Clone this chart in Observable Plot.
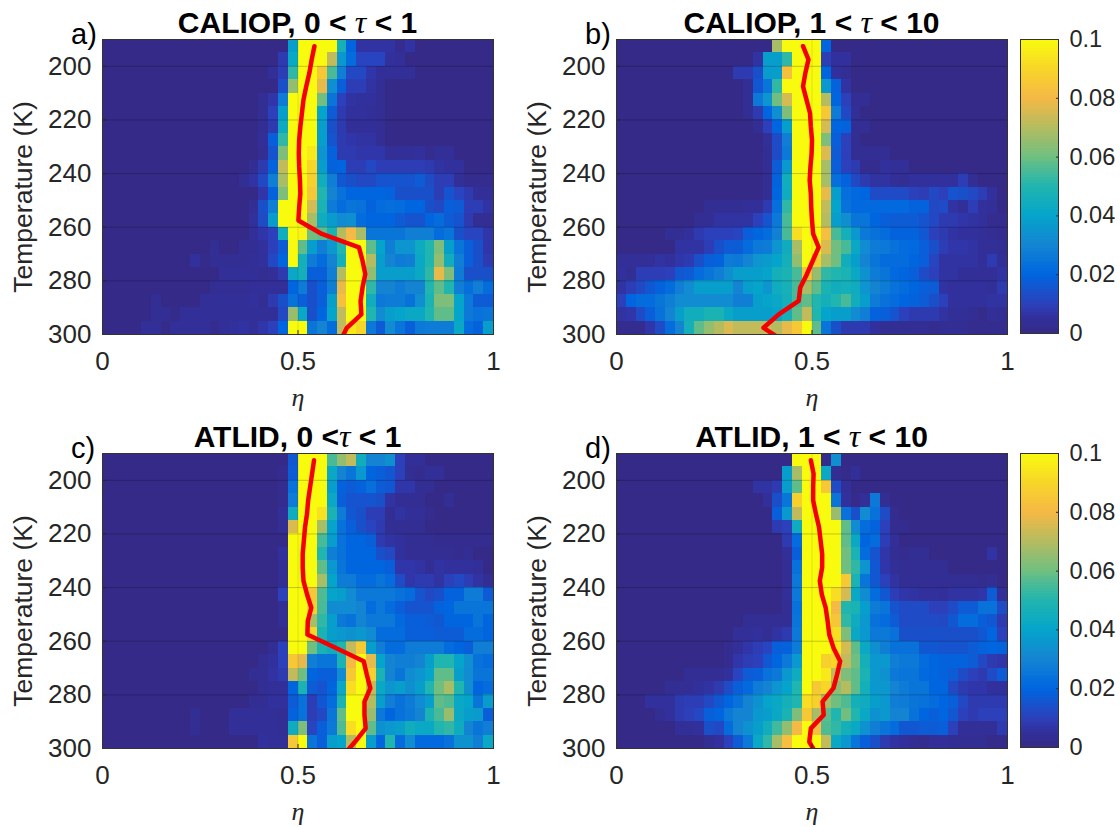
<!DOCTYPE html>
<html>
<head>
<meta charset="utf-8">
<script src="https://cdn.jsdelivr.net/npm/d3@7"></script>
<script src="https://cdn.jsdelivr.net/npm/@observablehq/plot@0.6"></script>
<style>
html,body{margin:0;padding:0;background:#fff;}
#chart{position:relative;width:1120px;height:827px;overflow:hidden;font-family:"Liberation Sans",Arial,sans-serif;}
#chart svg{position:absolute;overflow:visible;background:transparent;}
.title{position:absolute;font-weight:bold;font-size:30px;color:#000;white-space:pre;text-align:center;line-height:30px;}
.title i{font-family:"Liberation Serif",serif;font-style:italic;font-weight:normal;font-size:32px;}
.letter{position:absolute;font-size:29px;color:#000;line-height:30px;}
</style>
</head>
<body>
<div id="chart"></div>
<script>
// Rows are listed top (190–195 K) to bottom (295–300 K). Each row: [first non-empty column, values…] in units of 0.001
const caliopThin = [
[19,38,100,100,100,100,47,20,6,6,6,6,2,6],
[18,8,42,100,100,100,72,36,22,11,11,11,5,4],
[17,4,9,52,100,100,85,55,28,12,12,7,4,4,4,4],
[18,14,65,100,100,78,33,18,9,9,6,3],
[16,3,7,27,100,100,100,60,25,10,6,5,5,3],
[16,3,10,38,100,100,100,40,17,8,5,5,4,3],
[16,3,8,43,100,100,100,38,14,8,4,4,4,3],
[16,4,18,52,100,100,100,38,15,8,7,6,6,3],
[16,3,15,62,100,100,95,35,19,8,8,7,7,7,4,4,4,5,2,4,4],
[15,3,8,19,72,100,100,90,38,19,20,9,9,12,9,9,9,9,9,8,6,5,5],
[14,3,6,12,28,68,100,100,88,45,28,16,14,12,12,15,15,15,15,17,13,9,9,4,2,2,2],
[16,7,19,62,100,100,85,50,30,24,20,20,20,20,19,14,14,14,14,9,15,11,8,4,4],
[15,3,14,28,100,100,100,75,48,27,22,25,24,19,22,23,22,20,20,14,12,18,17,9,9,6],
[15,5,13,37,100,100,100,68,44,37,32,33,22,20,20,20,17,15,15,20,22,17,15,8,3,3],
[15,4,7,10,45,100,98,60,58,48,70,80,68,25,25,25,25,28,28,28,22,25,14,11,11,7],
[11,3,0,0,3,3,5,10,17,100,58,38,28,36,50,100,100,58,40,28,35,35,43,50,62,38,25,18,14,7],
[9,5,1,3,3,3,3,4,5,12,20,100,46,27,22,30,46,100,100,70,38,30,27,28,42,50,65,45,28,18,14,8],
[12,4,4,4,4,3,4,8,42,46,18,18,28,70,100,100,65,38,38,38,38,42,52,78,62,27,14,14,14],
[11,3,3,3,3,4,4,4,4,20,27,14,18,28,78,100,100,52,30,30,27,30,30,50,58,50,28,23,28,22],
[5,3,0,0,0,0,4,4,4,4,4,5,3,8,14,24,18,14,18,38,82,100,100,45,26,27,27,24,33,48,62,62,40,26,17,17],
[5,3,3,1,4,4,4,4,4,4,4,4,4,4,12,66,42,14,20,40,72,100,100,50,32,38,40,42,42,50,58,58,40,26,24,25],
[4,4,4,1,4,4,4,4,2,4,5,6,4,7,10,20,100,100,25,30,22,72,95,90,26,17,32,25,18,26,27,27,27,42,22,19,38]
];
const caliopThick = [
[16,68,100,100,100,100,20],
[14,6,38,38,52,100,100,100,9,5,5],
[12,8,8,14,37,38,82,100,100,100,20,5,3],
[13,3,16,25,52,100,100,100,100,36,19,6],
[13,3,26,35,60,75,100,100,100,70,20,10,3,3],
[13,3,8,20,33,62,100,100,100,85,27,12,4],
[14,3,10,20,38,100,100,100,75,20,19,3,3],
[15,4,13,28,100,100,100,62,18,10,3],
[15,3,13,26,100,100,100,76,17,10,3,3,3,3],
[15,3,17,36,100,100,100,68,18,10,8,2,2,5,4,4],
[15,3,19,45,100,100,100,68,23,19,12,8,6,6,4,3,5,5,5,5,5,9,3],
[15,3,20,44,100,100,100,78,38,23,21,20,13,13,13,13,10,9,12,10,15,14,12,9,5],
[9,3,3,3,3,4,4,8,23,52,100,100,100,72,40,24,21,21,21,21,21,21,19,19,12,13,6,4,9,5,4],
[8,3,3,6,6,6,6,10,15,26,55,100,100,100,70,38,33,25,25,20,18,17,17,17,15,12,8,8,7,6,5,2,2],
[5,3,3,5,8,10,10,10,11,18,20,22,29,55,92,100,100,82,55,46,36,26,24,22,19,19,19,16,10,8,6,5,5,4,3,2],
[6,6,6,6,9,14,17,17,22,26,27,35,44,68,100,100,76,60,55,42,32,27,26,24,22,21,18,14,9,7,7,6,4,4,3],
[0,4,4,4,4,6,5,7,8,14,18,19,27,26,30,35,37,40,46,65,100,88,68,60,45,38,30,25,22,22,22,20,18,11,6,6,6,6,4,8,4],
[0,5,3,9,9,9,10,16,17,22,25,28,33,38,38,38,40,46,48,55,85,66,52,50,48,42,34,27,25,21,20,18,13,10,6,6,4,4,4,4,6],
[0,6,9,12,16,19,22,28,32,38,38,38,38,30,38,40,35,44,47,55,68,58,48,45,46,44,35,30,27,24,22,20,18,17,6,5,5,5,5,4,8],
[0,10,20,22,22,25,28,32,32,32,32,32,32,28,28,38,40,42,46,55,58,50,46,50,55,45,38,27,24,22,20,19,17,14,10,5,5,5,5,6,6],
[0,6,7,13,18,24,30,38,45,45,48,48,42,38,38,38,38,40,46,58,72,50,40,38,38,32,28,19,18,15,10,8,8,8,6,4,4,3,1,4,3],
[0,2,2,2,7,13,22,30,46,58,65,70,76,72,72,72,72,70,78,85,100,58,25,14,8,8,8,5,3,3,3,3,3,2,3,3,3,2,2,2,2]
];
const atlidThin = [
[19,16,100,100,100,55,65,72,45,30,30,33,10,4,4],
[18,2,17,100,100,100,42,30,25,36,20,18,16,10,3,2,4,4],
[18,2,24,100,100,100,38,19,17,19,23,17,16,7,7,3,3],
[18,2,27,100,100,100,42,18,15,15,15,14,6,3,3,3,0,0,3],
[18,4,44,100,100,93,48,27,16,14,9,9,3,6,4,4,2],
[18,3,76,100,100,68,40,24,18,14,11,8,3,3,3,3],
[19,100,100,100,55,38,24,20,20,18,8,6,5,3,3,3,2,2,2,2,2,2],
[18,5,100,100,100,50,28,24,20,20,20,14,12,5,3,3,3,3,3,2,3],
[18,3,100,100,100,58,36,25,20,20,20,20,18,7,7,6,3,6,5,5,5,4],
[18,3,100,100,100,68,40,27,27,22,22,25,22,13,7,8,8,6,10,12,9,6,3],
[18,10,100,100,85,56,40,38,32,26,26,26,26,24,22,15,12,14,19,19,27,27,17],
[18,3,100,100,88,55,32,32,32,30,22,26,22,18,15,15,15,19,20,25,25,25,25],
[18,3,100,100,68,52,38,26,24,30,26,26,26,21,18,18,17,16,20,20,20,25,20],
[19,100,100,90,48,38,36,34,36,32,22,22,22,18,18,18,17,17,17,22,22,20],
[17,3,10,100,100,60,48,44,50,72,86,38,28,22,22,27,27,27,27,22,20,18,28,28],
[16,3,5,10,85,78,28,25,25,48,80,100,78,40,30,28,28,30,38,50,50,40,33,24,22],
[15,3,3,6,8,72,60,20,18,18,32,85,100,88,48,30,25,32,35,40,58,58,38,32,25,25],
[16,3,4,4,20,48,17,15,20,42,92,100,72,42,35,38,33,38,50,60,68,50,33,20,22],
[15,3,3,5,5,17,24,9,16,22,48,100,100,70,38,28,24,27,32,38,58,56,42,40,25,37],
[9,3,0,0,0,4,4,4,4,4,3,19,24,9,12,25,58,100,100,66,26,20,24,26,30,48,55,66,42,38,37,18],
[9,3,0,0,0,4,4,4,4,4,3,44,62,11,18,26,56,92,100,58,34,36,38,45,42,42,50,52,44,30,25,28],
[16,5,4,4,85,100,25,18,38,40,70,100,38,20,50,22,32,21,21,21,24,34,34,28,42]
];
const atlidThick = [
[18,100,100,100,1,33],
[17,38,68,100,100,42,3,1,4],
[14,6,6,8,38,58,100,100,85,13,4],
[15,4,14,25,88,100,100,100,25,5,1,4,26,3],
[16,18,36,72,100,100,100,66,24,14,32,24,13,2],
[16,8,10,44,100,100,100,100,58,32,22,19,10,2,2],
[17,8,22,100,100,100,100,58,42,20,22,9,4],
[17,4,18,100,100,100,100,60,48,22,15,7,3,2,3,3,0,0,0,0,0,0,6],
[17,3,24,100,100,100,100,60,52,35,16,7,4,3,3,3,3,3],
[17,3,26,100,100,100,100,85,48,25,16,10,6,3,3,3,3,3,3,3,3,2,3],
[17,4,26,100,100,100,92,75,42,32,22,16,9,7,6,5,5,4,6,6,6,7,17,4],
[17,3,24,100,100,100,80,50,48,38,27,25,15,13,13,13,10,10,13,17,17,24,24,13],
[13,3,3,3,3,3,25,100,100,100,84,52,44,36,24,22,17,13,13,13,13,12,16,22,22,18,16,8],
[12,4,4,5,3,6,8,26,100,100,100,92,62,42,36,26,26,24,14,14,14,14,14,14,14,14,16,20,10],
[11,2,4,7,9,11,18,19,27,100,100,100,95,75,58,42,33,28,24,24,24,16,16,15,15,15,17,19,20,19],
[11,2,7,9,10,16,20,26,36,100,100,88,90,72,60,46,36,36,28,26,26,22,20,19,19,19,17,12,8,7],
[7,3,3,3,3,5,11,17,18,24,26,36,44,100,100,95,72,62,58,48,36,34,26,25,25,21,20,19,17,13,10,8,13,17],
[5,3,3,3,5,6,8,13,18,21,27,30,35,40,50,100,85,90,64,70,58,46,36,36,30,27,25,25,20,20,12,8,7,7,5,5],
[3,5,5,5,8,9,9,12,16,20,24,30,34,40,42,46,50,92,88,68,60,56,46,44,38,36,28,27,25,24,22,20,18,12,8,8,8,8],
[4,3,5,8,10,12,18,20,26,30,30,36,38,42,48,62,85,68,58,50,60,50,42,34,36,30,30,24,20,18,20,16,10,8,10,10,10],
[6,4,4,5,14,12,22,30,34,38,45,54,65,80,100,82,56,52,46,42,34,28,25,22,16,16,17,17,18,10,4,4,4,4,8],
[9,3,5,10,17,26,42,52,68,82,100,100,100,72,42,36,25,18,14,8,6,5,3,2,4,4,3,3,3,3,1,1]
];
// Mean η at each temperature (red lines)
const lineTemps = [192.5,197.5,202.5,207.5,212.5,217.5,222.5,227.5,232.5,237.5,242.5,247.5,252.5,257.5,262.5,267.5,272.5,277.5,282.5,287.5,292.5,297.5,302.5];
const caliopThinLine = [.542,.535,.529,.521,.514,.510,.506,.503,.502,.503,.505,.506,.503,.501,.561,.656,.665,.672,.665,.660,.662,.625,.608];
const caliopThickLine = [.477,.491,.483,.477,.486,.495,.497,.500,.499,.496,.494,.497,.498,.500,.503,.517,.502,.487,.470,.466,.415,.376,.428];
const atlidThinLine = [.541,.536,.531,.526,.523,.518,.515,.512,.512,.514,.523,.534,.525,.524,.597,.668,.676,.685,.670,.670,.673,.646,.616];
const atlidThickLine = [.497,.504,.503,.503,.510,.518,.522,.526,.526,.520,.525,.535,.540,.544,.555,.572,.564,.555,.527,.530,.497,.493,.513];

const xTicks = [0,0.5,1];
const yTicks = [200,220,240,260,280,300];
const barTicks = [0,0.02,0.04,0.06,0.08,0.1];
const barTickLabels = ["0","0.02","0.04","0.06","0.08","0.1"];
// Colormap sampled from the colour bar
const colorStops = [0,0.005,0.01,0.02,0.03,0.04,0.05,0.06,0.07,0.08,0.09,0.1];
const colorRange = ["#352a87","#32309c","#2c40bc","#0066e0","#1484d2","#05a5cb","#20b5ae","#70bf80","#b5bc60","#f5b945","#f8d628","#f9fb0e"];
const colorScale = {type:"linear",domain:colorStops,range:colorRange,interpolate:"rgb",clamp:true};

const FONT = '"Liberation Sans",Arial,sans-serif';
const chart = document.getElementById("chart");
const COLS = 40, TOP_T = 190, STEP_T = 5;

function cells(rows){
  const out = [];
  rows.forEach((r,i)=>{
    const start = r[0];
    for(let c=0;c<COLS;c++){
      const v = (c>=start && c-start+1<r.length) ? r[c-start+1] : 0;
      out.push({x1:c/COLS,x2:(c+1)/COLS,y1:TOP_T+i*STEP_T,y2:TOP_T+(i+1)*STEP_T,v:v/1000});
    }
  });
  return out;
}

const panels = [
 {letter:"a)",title:"CALIOP, 0 < <i>τ</i> < 1",left:102,top:39,rows:caliopThin,line:caliopThinLine},
 {letter:"b)",title:"CALIOP, 1 < <i>τ</i> < 10",left:616,top:39,rows:caliopThick,line:caliopThickLine},
 {letter:"c)",title:"ATLID, 0 <<i>τ</i> < 1",left:102,top:453,rows:atlidThin,line:atlidThinLine},
 {letter:"d)",title:"ATLID, 1 < <i>τ</i> < 10",left:616,top:453,rows:atlidThick,line:atlidThickLine}
];
const PW=391, PH=295, ML=90, MT=10, MR=12, MB=76;

panels.forEach(p=>{
  const lineData = lineTemps.map((t,i)=>({t,eta:p.line[i]}));
  const svg = Plot.plot({
    width:PW+ML+MR, height:PH+MT+MB,
    marginLeft:ML, marginTop:MT, marginRight:MR, marginBottom:MB,
    style:{background:"transparent",fontFamily:FONT,fontSize:"26px",color:"#262626"},
    x:{domain:[0,1],axis:null},
    y:{domain:[190,300],axis:null,reverse:true},
    color:colorScale,
    marks:[
      Plot.rect(cells(p.rows),{x1:"x1",x2:"x2",y1:"y1",y2:"y2",fill:"v",shapeRendering:"crispEdges"}),
      Plot.ruleY(yTicks.slice(0,-1),{stroke:"#000",strokeOpacity:0.22,strokeWidth:1}),
      Plot.ruleX([0.5],{stroke:"#000",strokeOpacity:0.1,strokeWidth:1}),
      Plot.line(lineData,{x:"eta",y:"t",stroke:"#f50000",strokeWidth:4.5,curve:"linear",clip:true}),
      Plot.axisX({anchor:"bottom",ticks:xTicks,tickFormat:d=>String(d),tickSize:-4,tickPadding:21,fontSize:26,fill:"#262626",stroke:"#262626",label:null}),
      Plot.axisY({anchor:"left",ticks:yTicks,tickFormat:d=>String(d),tickSize:-4,tickPadding:15,fontSize:26,fill:"#262626",stroke:"#262626",label:null}),
      Plot.frame({stroke:"#333",strokeWidth:1}),
      Plot.text(["Temperature (K)"],{frameAnchor:"left",textAnchor:"middle",dx:-79,dy:10,rotate:-90,fontSize:26.5,fill:"#262626",fontFamily:FONT}),
      Plot.text(["η"],{frameAnchor:"bottom",lineAnchor:"middle",dy:63,fontSize:26,fontStyle:"italic",fill:"#262626",fontFamily:'"Liberation Serif",serif'})
    ]
  });
  svg.style.left=(p.left-ML)+"px";
  svg.style.top=(p.top-MT)+"px";
  d3.select(svg).select('g[aria-label="rect"]').style("filter","blur(0.6px)");
  chart.appendChild(svg);

  const t=document.createElement("div");
  t.className="title";
  t.innerHTML=p.title.replace(/</g,"&lt;").replace(/&lt;i>/g,"<i>").replace(/&lt;\/i>/g,"</i>");
  t.style.left=p.left+"px"; t.style.width=PW+"px"; t.style.top=(p.top-32)+"px";
  chart.appendChild(t);

  const l=document.createElement("div");
  l.className="letter"; l.textContent=p.letter;
  l.style.left=(p.left-31)+"px"; l.style.top=(p.top-20)+"px";
  chart.appendChild(l);
});

// Colour bars
const barLevels = d3.range(0,100).map(i=>({y1:i/1000,y2:(i+1)/1000,v:(i+0.5)/1000}));
[39,453].forEach(top=>{
  const svg = Plot.plot({
    width:100,height:294+24,marginLeft:0,marginRight:62,marginTop:12,marginBottom:12,
    style:{background:"transparent",fontFamily:FONT,fontSize:"23.5px",color:"#262626"},
    x:{domain:[0,1],axis:null},
    y:{domain:[0,0.1],axis:null},
    color:colorScale,
    marks:[
      Plot.rect(barLevels,{x1:0,x2:1,y1:"y1",y2:"y2",fill:"v",shapeRendering:"crispEdges"}),
      Plot.axisY({anchor:"right",ticks:barTicks,tickFormat:d=>barTickLabels[barTicks.indexOf(d)],tickSize:-3,tickPadding:14,fontSize:23.5,fill:"#262626",stroke:"#262626",label:null}),
      Plot.frame({stroke:"#333",strokeWidth:1})
    ]
  });
  svg.style.left="1020px";
  svg.style.top=(top-12)+"px";
  chart.appendChild(svg);
});
</script>
</body>
</html>
